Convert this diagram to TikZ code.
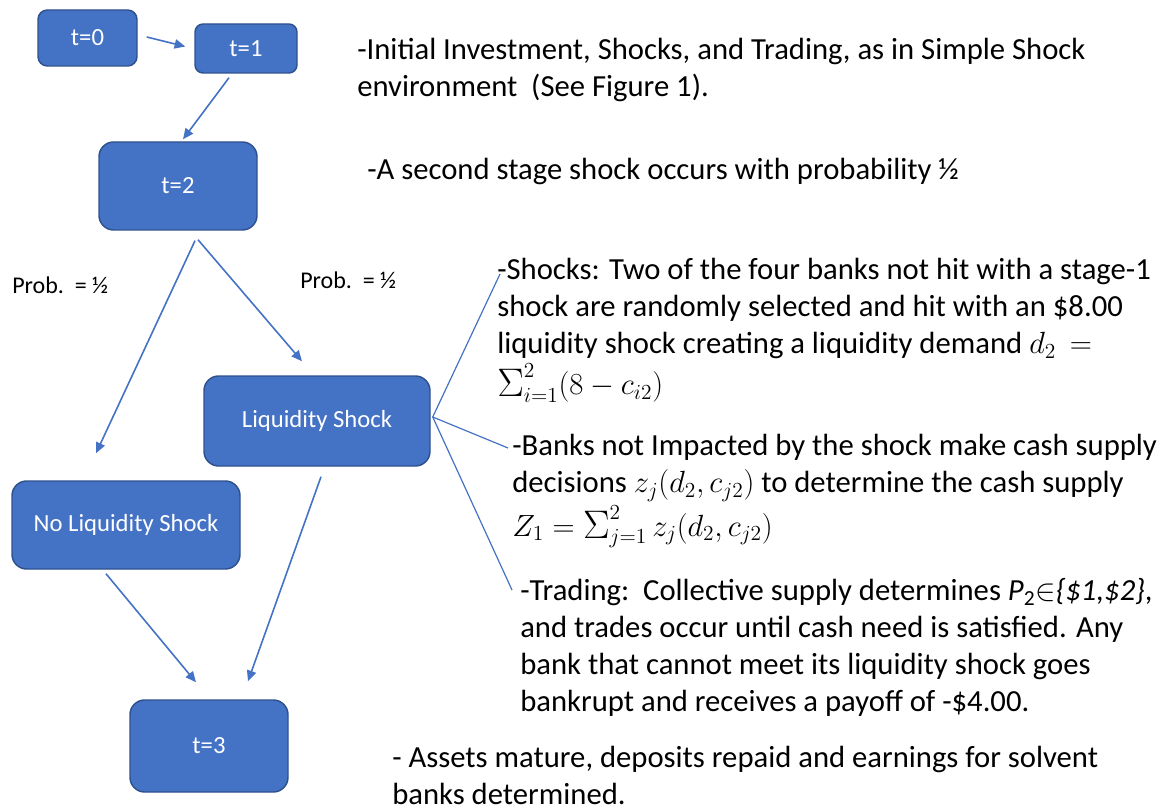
\RequirePackage{fix-cm}
\documentclass[tikz,border=0pt]{standalone}
\usepackage{fontspec}
\setmainfont{Carlito}
\usetikzlibrary{arrows.meta,calc}
\definecolor{boxblue}{HTML}{4472C4}
\definecolor{boxedge}{HTML}{2F528F}
\newcommand{\bigsig}{\mathop{\raisebox{-1.5pt}{\scalebox{1.3}{$\Sigma$}}}\nolimits}
\begin{document}
\begin{tikzpicture}[
  x=0.75pt, y=-0.75pt,
  box/.style={rectangle, draw=boxedge, fill=boxblue, line width=1.1pt, text=white,
    font=\fontsize{18.5}{22}\selectfont, inner sep=0pt},
  arr/.style={-{Triangle[length=8pt,width=7pt]}, draw=boxblue, line width=1.2pt},
  link/.style={draw=boxblue, line width=0.9pt},
  note/.style={anchor=north west, align=left, inner sep=0pt,
    font=\fontsize{23}{27.75}\selectfont},
  prob/.style={anchor=north west, inner sep=0pt, font=\fontsize{18}{22}\selectfont}
]
\useasboundingbox (0,0) rectangle (1164,809);

% Time line boxes
\node[box, rounded corners=7pt, minimum width=74.25pt, minimum height=42pt] (t0) at (87.5,38) {t=0};
\node[box, rounded corners=6pt, minimum width=76.5pt, minimum height=36.75pt] (t1) at (246,48.5) {t=1};
\node[box, rounded corners=11pt, minimum width=118.5pt, minimum height=66pt] (t2) at (178,186) {t=2};
\node[box, rounded corners=11pt, minimum width=169.5pt, minimum height=67.5pt] (ls) at (317,421) {Liquidity Shock};
\node[box, rounded corners=11pt, minimum width=171pt, minimum height=66pt] (nols) at (126,525) {No Liquidity Shock};
\node[box, rounded corners=11pt, minimum width=118.5pt, minimum height=69pt] (t3) at (209,746) {t=3};

% Probabilities
\node[prob] (pleft) at (12,277) {Prob.\ \ = ½};
\node[prob] (pright) at (300,272) {Prob.\ \ = ½};

% Arrows
\draw[arr] ($(t0.east)+(9,-1)$) -- ($(t1.west)+(-9,-2)$);
\draw[arr] ($(t1.south)+(-17,4)$) -- ($(t2.north)+(5,-2)$);
\draw[arr] ($(t2.south)+(17,10)$) -- ($(nols.north)+(-30,-27)$);
\draw[arr] ($(t2.south)+(20,9)$) -- ($(ls.north)+(-15,-14)$);
\draw[arr] ($(nols.south)+(-20,4)$) -- ($(t3.north)+(-13,-17)$);
\draw[arr] ($(ls.south)+(4,10)$) -- ($(t3.north)+(39,-18)$);

% Descriptions
\node[note] (init) at (357,38) {-Initial Investment, Shocks, and Trading, as in Simple Shock\\environment\ \ (See Figure 1).};
\node[note] (second) at (367,158) {-A second stage shock occurs with probability ½};
\node[note] (shocks) at (497,258) {-Shocks: Two of the four banks not hit with a stage-1\\
  shock are randomly selected and hit with an \$8.00\\
  liquidity shock creating a liquidity demand $d_2\,=$\\[3pt]
  $\bigsig_{i=1}^{2}(8-c_{i2})$};
\node[note] (banks) at (512,434) {-Banks not Impacted by the shock make cash supply\\
  decisions $z_j(d_2,c_{j2})$ to determine the cash supply\\[2pt]
  $Z_1=\bigsig_{j=1}^{2} z_j(d_2,c_{j2})$};
\node[note] (trading) at (520,578) {-Trading:\ \ Collective supply determines {\itshape P}\textsubscript{2}$\in${\itshape\{\$1,\$2\}},\\
  and trades occur until cash need is satisfied. Any\\
  bank that cannot meet its liquidity shock goes\\
  bankrupt and receives a payoff of -\$4.00.};
\node[note] (assets) at (392,746) {- Assets mature, deposits repaid and earnings for solvent\\banks determined.};

% Links to the liquidity shock
\draw[link] ($(ls.east)+(2,-4)$) -- ($(shocks.north west)+(3,16)$);
\draw[link] ($(ls.east)+(2,-4)$) -- ($(banks.north west)+(-4,14)$);
\draw[link] ($(ls.east)+(2,-4)$) -- ($(trading.north west)+(-8,12)$);
\end{tikzpicture}
\end{document}
